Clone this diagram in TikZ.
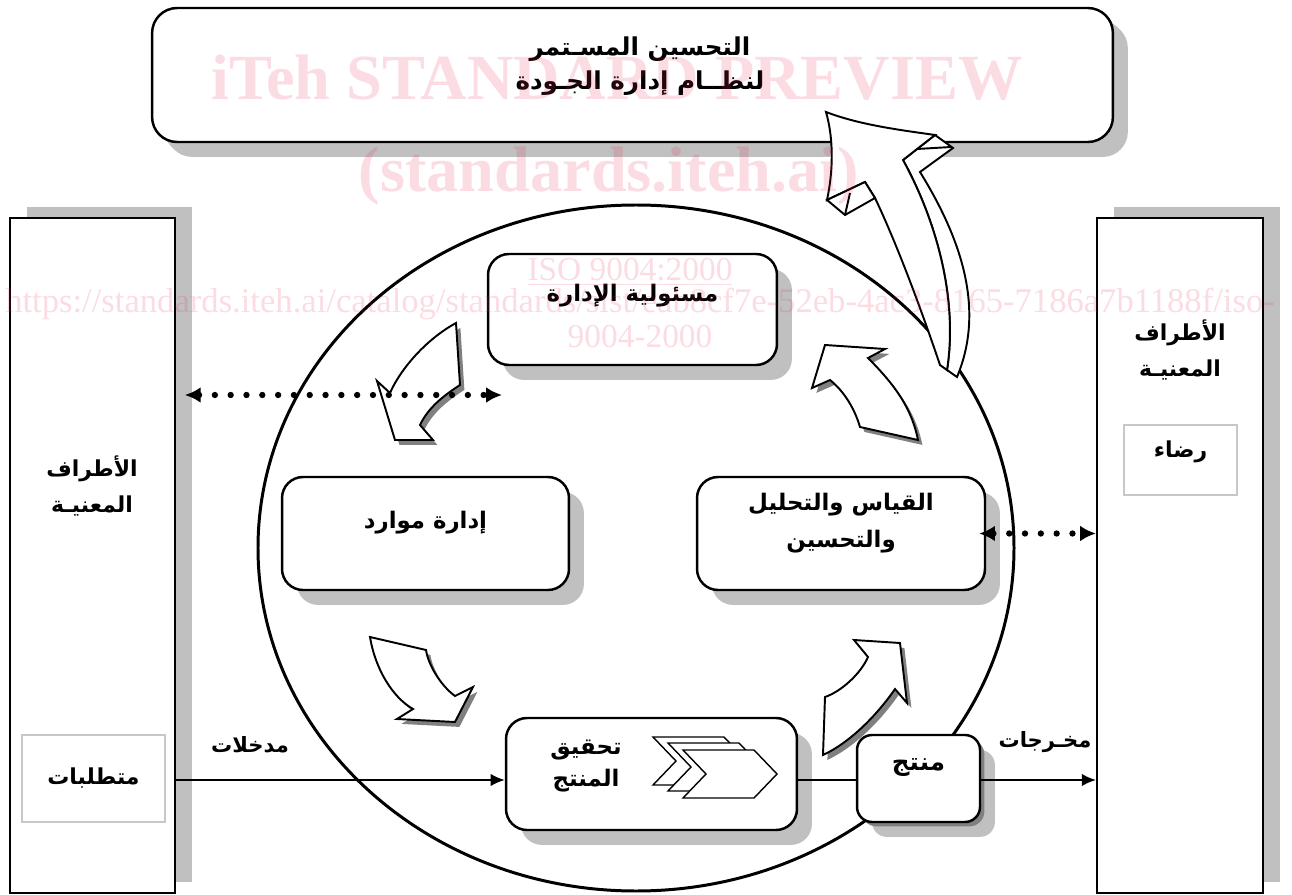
\documentclass[tikz,border=0pt]{standalone}
\usepackage{fontspec}
\usepackage{xcolor}
\usepackage{tikz}
\usetikzlibrary{arrows.meta, shadows, calc}
\setmainfont{Liberation Serif}
\newfontfamily\arabicfont[Script=Arabic]{DejaVu Sans}
\TeXXeTstate=1
\newcommand{\artxt}[1]{{\arabicfont\bfseries\beginR #1\endR}}
\definecolor{shadegray}{RGB}{192,192,192}
\definecolor{darkshade}{RGB}{128,128,128}
\definecolor{tagline}{RGB}{200,200,200}
\definecolor{wmred}{RGB}{230,40,80}

\begin{document}
\begin{tikzpicture}[x=0.02cm, y=-0.02cm, >=Latex,
    box/.style={draw, fill=white, line width=1.4pt, rounded corners=0.42cm, align=center,
      font=\fontsize{13}{20}\selectfont,
      drop shadow={shadow xshift=8.5pt, shadow yshift=-8.5pt, fill=shadegray, opacity=1}},
    side/.style={draw, fill=white, line width=1.2pt, minimum width=3.3cm, minimum height=13.5cm,
      drop shadow={shadow xshift=9.6pt, shadow yshift=6.2pt, fill=shadegray, opacity=1}},
    tag/.style={draw=tagline, fill=white, line width=0.8pt, font=\fontsize{12.5}{20}\selectfont},
    cyclearrow/.style={draw, fill=white, line width=1.1pt,
      drop shadow={shadow xshift=2.5pt, shadow yshift=-2.8pt, fill=darkshade, opacity=1}},
    bigarrow/.style={draw, fill=white, line width=1.1pt},
    chev/.style={draw, fill=white, line width=0.8pt},
    flowline/.style={line width=1pt, -{Latex[length=8pt, width=7pt]}},
    dotline/.style={line width=3.6pt, line cap=round, dash pattern=on 0pt off 9pt,
      {Latex[length=9pt, width=9pt]}-{Latex[length=9pt, width=9pt]}},
    plain/.style={font=\fontsize{12.5}{20}\selectfont, align=center},
    wm/.style={text=wmred, text opacity=0.16, inner sep=0pt}]

\useasboundingbox (0,0) rectangle (1292,895);

% interested parties
\node[side] (lside) at (92.5,555.5) {};
\node[side, minimum width=3.32cm] (rside) at (1180,555.5) {};
\node[plain, font=\fontsize{12.5}{20.5}\selectfont] (lparty) at (92,486) {\artxt{الأطراف}\\\artxt{المعنيـة}};
\node[plain, font=\fontsize{12.5}{20.5}\selectfont] (rparty) at (1180,350) {\artxt{الأطراف}\\\artxt{المعنيـة}};
\node[tag, minimum width=2.86cm, minimum height=1.74cm] (req) at (93.5,778.5) {\artxt{متطلبات}};
\node[tag, minimum width=2.26cm, minimum height=1.4cm, text height=0.4cm, text depth=0.52cm] (sat) at (1180.5,460) {\artxt{رضاء}};

% the process loop
\draw[line width=1.7pt] (636,548) ellipse [x radius=378, y radius=343];

\node[box, rounded corners=0.5cm, minimum width=19.22cm, minimum height=2.68cm,
  drop shadow={shadow xshift=6.8pt, shadow yshift=-6.8pt, fill=shadegray, opacity=1}] (imp) at (632.5,75) {};
\node[plain, font=\fontsize{14}{19.2}\selectfont] (imptext) at (640,66) {\artxt{التحسين المسـتمر}\\\artxt{لنظــام إدارة الجـودة}};

\node[box, minimum width=5.78cm, minimum height=2.22cm, text height=0.4cm, text depth=0.72cm] (mgmt) at (632.5,309.5) {\artxt{مسئولية الإدارة}};
\node[box, minimum width=5.74cm, minimum height=2.26cm, text height=0.4cm, text depth=0.6cm] (res) at (425.5,533.5) {\artxt{إدارة موارد}};
\node[box, minimum width=5.76cm, minimum height=2.26cm] (meas) at (841,533.5) {};
\node[plain, font=\fontsize{13}{21}\selectfont] (meastext) at (841,523) {\artxt{القياس والتحليل}\\\artxt{والتحسين}};
\node[box, minimum width=5.82cm, minimum height=2.24cm] (real) at (651.5,774) {};
\node[plain, font=\fontsize{13}{18.3}\selectfont] (realtext) at (586,766) {\artxt{تحقيق}\\\artxt{المنتج}};
\foreach \dx/\dy in {-30/-13, -15/-7, 0/0}
  \draw[chev, shift={(\dx,\dy)}] (683,750) -- (754,750) -- (777,774) -- (754,798) -- (683,798) -- (706,774) -- cycle;
\node[box, rounded corners=0.3cm, minimum width=2.46cm, minimum height=1.74cm, text height=0.4cm, text depth=0.74cm,
  font=\fontsize{14}{20}\selectfont,
  drop shadow={shadow xshift=2.5pt, shadow yshift=-2.5pt, fill=darkshade, opacity=1}] (prod) at (918.5,778.5) {\artxt{منتج}};

% curved arrows of the cycle
\filldraw[cyclearrow] (456,323) -- (460,385) .. controls (443,396) and (428,408) .. (420,425) -- (433,440) -- (395,440)
  -- (377,381) -- (390,393) .. controls (400,370) and (425,340) .. (456,323) -- cycle;
\filldraw[cyclearrow] (370,637) -- (426,650) .. controls (428,664) and (440,685) .. (455,696) -- (473,687) -- (455,722)
  -- (397,719) -- (413,709) .. controls (392,697) and (375,668) .. (370,637) -- cycle;
\filldraw[cyclearrow] (823,755) -- (825,697) .. controls (840,692) and (860,675) .. (868,657) -- (854,640) -- (900,643)
  -- (907,703) -- (895,689) .. controls (882,708) and (855,740) .. (823,755) -- cycle;
\filldraw[cyclearrow] (812,388) -- (825,345) -- (885,349) -- (868,358) .. controls (897,387) and (912,410) .. (918,440)
  -- (860,427) .. controls (855,410) and (845,392) .. (830,380) -- cycle;

% big arrow to continual improvement
\filldraw[bigarrow] (935,135) -- (953,148) -- (920,172) .. controls (962,240) and (985,310) .. (957,377) -- (947,370)
  .. controls (958,300) and (937,222) .. (903,160) -- cycle;
\filldraw[bigarrow] (940,365) .. controls (918,300) and (895,240) .. (875,198) -- (865,182) -- (827,200)
  .. controls (833,172) and (834,140) .. (826,112) .. controls (860,125) and (900,130) .. (935,135) -- (903,160)
  .. controls (937,222) and (958,300) .. (947,370) -- cycle;
\filldraw[bigarrow] (827,200) -- (845,215) -- (875,198) -- (865,182) -- cycle;
\draw[line width=1.1pt] (850,193) -- (845,215);
\draw[line width=1.1pt] (917,149) -- (951,147);

% connectors
\coordinate (flow) at (0,780);
\coordinate (dl) at (502,395);
\draw[flowline] (lside.east |- flow) -- (real.west |- flow);
\draw[line width=1pt] (real.east |- flow) -- (prod.west |- flow);
\draw[flowline] (prod.east |- flow) -- (rside.west |- flow);
\draw[dotline, shorten <=5pt] (lside.east |- dl) -- (dl);
\draw[dotline] ([xshift=-4pt]meas.east) -- (meas.east -| rside.west);
\node[plain, font=\fontsize{12}{20}\selectfont] (inlbl) at (250,745) {\artxt{مدخلات}};
\node[plain, font=\fontsize{12}{20}\selectfont] (outlbl) at (1045,742) {\artxt{مخـرجات}};

% watermark
\node[wm, anchor=base, font=\bfseries\fontsize{36.6}{40}\selectfont] (wm1) at (617,100) {iTeh STANDARD PREVIEW};
\node[wm, anchor=base, font=\bfseries\fontsize{36.6}{40}\selectfont] (wm2) at (609,192) {(standards.iteh.ai)};
\node[wm, anchor=base, font=\fontsize{19}{22}\selectfont] (wm3) at (630,281) {\underline{ISO 9004:2000}};
\node[wm, anchor=base, font=\fontsize{19.7}{22}\selectfont] (wm4) at (640,313) {https://standards.iteh.ai/catalog/standards/sist/eab8cf7e-52eb-4ac3-8165-7186a7b1188f/iso-};
\node[wm, anchor=base, font=\fontsize{19}{22}\selectfont] (wm5) at (640,348) {9004-2000};
\end{tikzpicture}
\end{document}
